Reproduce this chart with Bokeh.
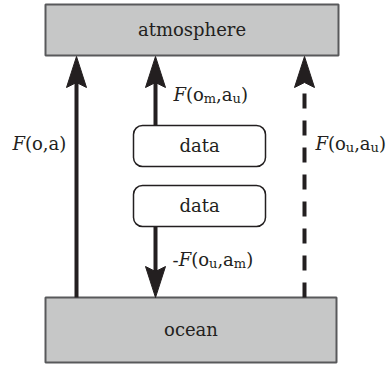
from bokeh.plotting import figure
from bokeh.models import Range1d
from bokeh.core.properties import value
from bokeh.embed import file_html
from bokeh.resources import INLINE

# ---- diagram content ----
box_names = ["atmosphere", "ocean"]
box_left = [45, 45]
box_right = [338, 336]
box_top = [4, 297]
box_bottom = [55, 362]
box_text_y = [37, 337]

data_names = ["data", "data"]
data_left = [133, 133]
data_right = [265, 265]
data_top = [125, 185]
data_bottom = [166, 226]
data_text_y = [153, 213]

arrow_x = [76, 155, 155, 304]
arrow_from = [297, 125, 226, 297]
arrow_to = [56, 56, 297, 56]
arrow_dash = ["solid", "solid", "solid", "15 12"]

# flux labels: pieces of (text, style), start x, baseline y
label_pieces = [
    [("F", "it"), ("(o", "rm"), ("m", "sub"), (",a", "rm"), ("u", "sub"), (")", "rm")],
    [("F", "it"), ("(o,a)", "rm")],
    [("F", "it"), ("(o", "rm"), ("u", "sub"), (",a", "rm"), ("u", "sub"), (")", "rm")],
    [("-", "rm"), ("F", "it"), ("(o", "rm"), ("u", "sub"), (",a", "rm"), ("m", "sub"), (")", "rm")],
]
label_x = [173, 12, 315, 172]
label_y = [102, 151, 151, 267]

# ---- styles ----
FONT = "DejaVu Serif"
MAIN = 18
SUB = 13
SUB_DROP = 4
TEXT_SHIFT = -8
INK = "#231f20"
GRAY = "#c6c7c7"
GRAY_LINE = "#58595b"
HEAD_LEN = 31
HEAD_W = 20
NOTCH = 5

W = {"(": 0.390, ")": 0.390, ",": 0.318, "-": 0.346, "F": 0.69,
     "a": 0.596, "m": 0.948, "o": 0.602, "u": 0.644}

p = figure(width=390, height=365, x_range=Range1d(0, 390), y_range=Range1d(365, 0),
           x_axis_type=None, y_axis_type=None, toolbar_location=None,
           output_backend="svg", min_border=0)
p.grid.visible = False
p.outline_line_color = None
p.background_fill_color = "white"
p.border_fill_color = "white"

# gray boxes
p.quad(left=box_left, right=box_right, top=box_top, bottom=box_bottom,
       fill_color=GRAY, line_color=GRAY_LINE, line_width=2)
p.text(x=[(l + r) / 2 for l, r in zip(box_left, box_right)],
       y=[v + TEXT_SHIFT for v in box_text_y], text=box_names,
       text_font=value(FONT), text_font_size=value(f"{MAIN}px"), text_color=INK,
       text_align="center", text_baseline="alphabetic")

# arrows
for x, a, b, dash in zip(arrow_x, arrow_from, arrow_to, arrow_dash):
    d = 1 if a > b else -1
    end = b + d * (HEAD_LEN - NOTCH - 1)
    p.line(x=[x, x], y=[a, end], line_color=INK, line_width=4, line_dash=dash)
    p.patch(x=[x, x - HEAD_W / 2, x, x + HEAD_W / 2],
            y=[b, b + d * HEAD_LEN, b + d * (HEAD_LEN - NOTCH), b + d * HEAD_LEN],
            fill_color=INK, line_color=INK, line_width=1)

# data boxes (drawn after arrows so they sit on top)
p.quad(left=data_left, right=data_right, top=data_top, bottom=data_bottom,
       fill_color="white", line_color=INK, line_width=1.5, border_radius=9)
p.text(x=[(l + r) / 2 for l, r in zip(data_left, data_right)],
       y=[v + TEXT_SHIFT for v in data_text_y], text=data_names,
       text_font=value(FONT), text_font_size=value(f"{MAIN}px"), text_color=INK,
       text_align="center", text_baseline="alphabetic")

# flux labels
for pieces, x0, y0 in zip(label_pieces, label_x, label_y):
    x = x0
    for txt, style in pieces:
        size = SUB if style == "sub" else MAIN
        y = y0 + TEXT_SHIFT + (SUB_DROP if style == "sub" else 0)
        p.text(x=[x], y=[y], text=[txt], text_font=value(FONT),
               text_font_size=value(f"{size}px"),
               text_font_style="italic" if style == "it" else "normal",
               text_color=INK, text_align="left", text_baseline="alphabetic")
        x += sum(W.get(c, 0.6) for c in txt) * size

open("out.html", "w").write(file_html(p, INLINE))
